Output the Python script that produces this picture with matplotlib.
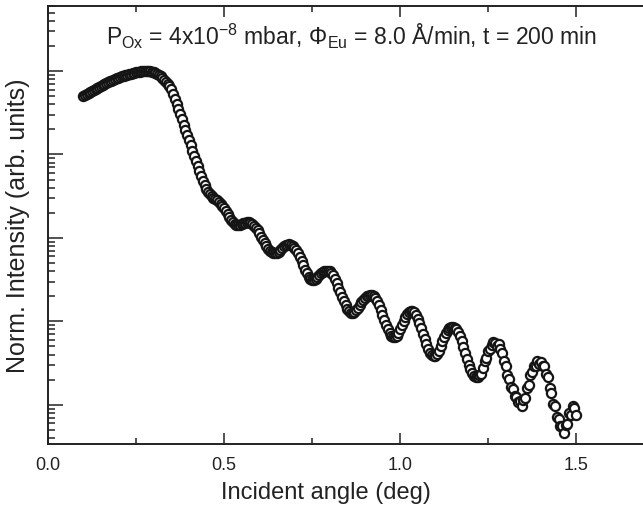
import numpy as np
import matplotlib
matplotlib.use("Agg")
import matplotlib.pyplot as plt
from matplotlib.ticker import LogLocator, MultipleLocator, NullFormatter

plt.rcParams['font.family'] = ['Liberation Sans', 'DejaVu Sans']
plt.rcParams['mathtext.fontset'] = 'custom'
plt.rcParams['mathtext.rm'] = 'Liberation Sans'
plt.rcParams['mathtext.it'] = 'Liberation Sans:italic'

# incident angle (deg), 0.005 deg steps from 0.100 to 1.500
angle = [round(0.100 + 0.005 * i, 3) for i in range(281)]

# log10 of normalised reflected intensity
log_intensity = [
    -0.300, -0.286, -0.273, -0.260, -0.247, -0.234, -0.222, -0.210, -0.198, -0.186,
    -0.175, -0.164, -0.153, -0.143, -0.133, -0.123, -0.114, -0.105, -0.096, -0.088,
    -0.080, -0.072, -0.064, -0.057, -0.050, -0.043, -0.037, -0.031, -0.025, -0.020,
    -0.015, -0.011, -0.007, -0.004, -0.002, -0.001, 0.000, -0.001, -0.004, -0.009,
    -0.015, -0.023, -0.030, -0.045, -0.062, -0.082, -0.104, -0.128, -0.155, -0.184,
    -0.220, -0.275, -0.333, -0.393, -0.455, -0.517, -0.580, -0.642, -0.705, -0.767,
    -0.830, -0.892, -0.955, -1.017, -1.080, -1.140, -1.200, -1.258, -1.313, -1.365,
    -1.410, -1.448, -1.478, -1.500, -1.517, -1.532, -1.548, -1.566, -1.588, -1.615,
    -1.645, -1.677, -1.710, -1.745, -1.780, -1.810, -1.830, -1.845, -1.850, -1.845,
    -1.835, -1.825, -1.818, -1.815, -1.815, -1.822, -1.835, -1.855, -1.880, -1.910,
    -1.945, -1.985, -2.025, -2.065, -2.100, -2.130, -2.155, -2.172, -2.182, -2.185,
    -2.180, -2.165, -2.145, -2.122, -2.102, -2.088, -2.080, -2.078, -2.082, -2.095,
    -2.115, -2.145, -2.185, -2.230, -2.280, -2.330, -2.380, -2.425, -2.465, -2.495,
    -2.510, -2.505, -2.490, -2.468, -2.445, -2.425, -2.410, -2.400, -2.395, -2.395,
    -2.402, -2.420, -2.450, -2.490, -2.540, -2.595, -2.650, -2.705, -2.755, -2.805,
    -2.848, -2.880, -2.898, -2.900, -2.888, -2.865, -2.835, -2.800, -2.768, -2.740,
    -2.718, -2.702, -2.692, -2.688, -2.690, -2.702, -2.725, -2.760, -2.805, -2.860,
    -2.920, -2.980, -3.040, -3.095, -3.140, -3.172, -3.190, -3.192, -3.175, -3.140,
    -3.095, -3.045, -2.995, -2.950, -2.912, -2.885, -2.872, -2.875, -2.892, -2.925,
    -2.970, -3.025, -3.085, -3.150, -3.215, -3.275, -3.330, -3.375, -3.405, -3.420,
    -3.418, -3.395, -3.355, -3.300, -3.240, -3.185, -3.140, -3.105, -3.082, -3.070,
    -3.068, -3.075, -3.095, -3.130, -3.180, -3.240, -3.310, -3.385, -3.455, -3.520,
    -3.575, -3.620, -3.650, -3.668, -3.672, -3.640, -3.630, -3.560, -3.470, -3.440,
    -3.360, -3.330, -3.285, -3.250, -3.265, -3.290, -3.270, -3.330, -3.380, -3.480,
    -3.530, -3.640, -3.690, -3.790, -3.810, -3.900, -3.910, -3.970, -3.950, -4.010,
    -3.940, -3.920, -3.800, -3.760, -3.640, -3.610, -3.530, -3.540, -3.480, -3.510,
    -3.490, -3.540, -3.540, -3.630, -3.670, -3.800, -3.860, -3.990, -4.020, -4.150,
    -4.170, -4.260, -4.250, -4.340, -4.240, -4.230, -4.100, -4.120, -4.020, -4.040,
    -4.120,
]

intensity = 10.0 ** np.array(log_intensity)

fig = plt.figure(figsize=(6.43, 5.06), dpi=100)
ax = fig.add_axes([0.0747, 0.1206, 0.9253, 0.8656])

ax.plot(angle, intensity, linestyle='none', marker='o', markersize=6.6,
        markerfacecolor='white', markeredgecolor='#151515', markeredgewidth=1.6)

ax.set_yscale('log')
ax.set_xlim(0.0, 1.69)
ax.set_ylim(10 ** -4.47, 10 ** 0.78)

ax.xaxis.set_major_locator(MultipleLocator(0.5))
ax.xaxis.set_minor_locator(MultipleLocator(0.25))
ax.xaxis.set_major_formatter(plt.FormatStrFormatter('%.1f'))
ax.yaxis.set_major_locator(LogLocator(base=10))
ax.yaxis.set_minor_locator(LogLocator(base=10, subs=np.arange(2, 10)))
ax.yaxis.set_major_formatter(NullFormatter())
ax.yaxis.set_minor_formatter(NullFormatter())

ax.tick_params(which='both', direction='in', top=True, right=False, width=1.1,
               labelsize=13, colors='#222222', pad=9)
ax.tick_params(which='major', length=8)
ax.tick_params(which='minor', length=4.5)
ax.tick_params(axis='y', which='major', length=11)
ax.tick_params(axis='y', which='minor', length=5)

for side in ['left', 'bottom', 'top']:
    ax.spines[side].set_linewidth(1.4)
    ax.spines[side].set_color('#222222')
ax.spines['right'].set_visible(False)

ax.set_xlabel('Incident angle (deg)', fontsize=17, color='#222222', labelpad=7)
ax.xaxis.set_label_coords(0.467, -0.085)
ax.set_ylabel('Norm. Intensity (arb. units)', fontsize=18, color='#222222', labelpad=4)

fig.text(0.5467, 0.911,
         'P$_{\\mathrm{Ox}}$ = 4x10$^{-8}$ mbar, \u03a6$_{\\mathrm{Eu}}$ = 8.0 \u00c5/min, t = 200 min',
         ha='center', va='baseline', fontsize=16.5, color='#222222')

fig.savefig('out.png', dpi=100)
